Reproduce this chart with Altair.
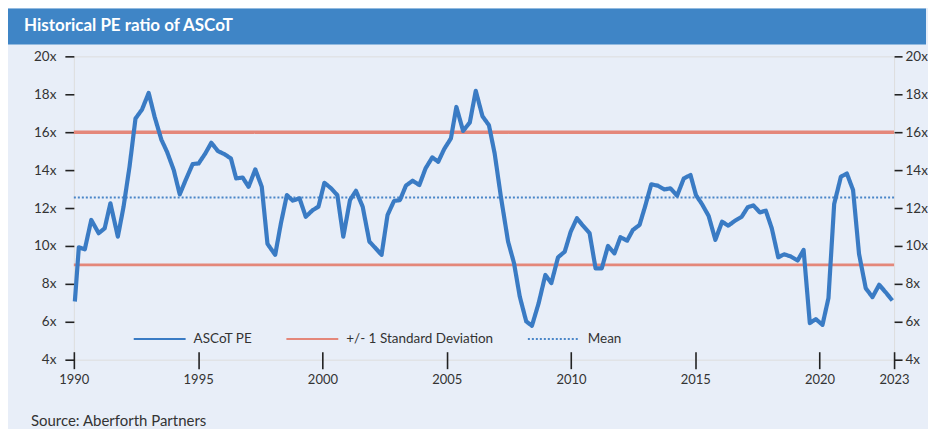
import altair as alt
import pandas as pd

# ---- data ----
years = [1990.04, 1990.20, 1990.44, 1990.70, 1991.00, 1991.24, 1991.47, 1991.77, 1992.00, 1992.24,
         1992.48, 1992.74, 1993.01, 1993.25, 1993.52, 1993.75, 1994.02, 1994.26, 1994.51, 1994.78,
         1995.02, 1995.29, 1995.53, 1995.80, 1996.06, 1996.32, 1996.53, 1996.79, 1997.03, 1997.30,
         1997.56, 1997.79, 1998.10,
         1998.33, 1998.57, 1998.81, 1999.08, 1999.33, 1999.61, 1999.84, 2000.08, 2000.35, 2000.60,
         2000.84, 2001.11, 2001.35, 2001.62, 2001.89, 2002.14, 2002.38, 2002.62, 2002.88, 2003.12,
         2003.36, 2003.63, 2003.90, 2004.15, 2004.42, 2004.66, 2004.90, 2005.17, 2005.39, 2005.66,
         2005.93, 2006.17, 2006.44, 2006.70,
         2006.93, 2007.18, 2007.47, 2007.71, 2007.94, 2008.20, 2008.43, 2008.70, 2008.97, 2009.21,
         2009.48, 2009.75, 2009.99, 2010.24, 2010.48, 2010.75, 2010.99, 2011.24, 2011.49, 2011.75,
         2011.99, 2012.26, 2012.49, 2012.76, 2012.98, 2013.23, 2013.49, 2013.76, 2014.00, 2014.27,
         2014.54, 2014.81,
         2015.03, 2015.27, 2015.54, 2015.81, 2016.08, 2016.33, 2016.60, 2016.87, 2017.11, 2017.34,
         2017.60, 2017.84, 2018.08, 2018.34, 2018.58, 2018.85, 2019.12, 2019.36, 2019.61, 2019.85,
         2020.12, 2020.36, 2020.59, 2020.86, 2021.10, 2021.35, 2021.59, 2021.86, 2022.13, 2022.40,
         2022.66, 2022.93]

pe_ratio = [7.07, 9.93, 9.82, 11.37, 10.67, 10.93, 12.25, 10.49, 12.07, 14.18,
            16.72, 17.19, 18.07, 16.81, 15.61, 14.96, 14.00, 12.72, 13.51, 14.32,
            14.35, 14.88, 15.44, 15.00, 14.84, 14.61, 13.56, 13.61, 13.12, 14.04,
            13.12, 10.11, 9.53,
            11.19, 12.68, 12.39, 12.51, 11.54, 11.89, 12.07, 13.33, 13.04, 12.68,
            10.49, 12.42, 12.91, 12.07, 10.23, 9.88, 9.53, 11.63, 12.37, 12.42,
            13.18, 13.44, 13.21, 14.09, 14.67, 14.44, 15.11, 15.67, 17.33, 16.07,
            16.51, 18.18, 16.84, 16.37,
            14.88, 12.60, 10.23, 9.09, 7.33, 6.02, 5.79, 6.98, 8.47, 8.04,
            9.40, 9.70, 10.75, 11.46, 11.07, 10.67, 8.82, 8.82, 10.00, 9.61,
            10.46, 10.28, 10.84, 11.11, 12.07, 13.25, 13.18, 12.98, 13.04, 12.65,
            13.56, 13.74,
            12.68, 12.21, 11.58, 10.32, 11.28, 11.07, 11.33, 11.54, 12.04, 12.14,
            11.77, 11.86, 10.93, 9.40, 9.56, 9.44, 9.23, 9.79, 5.93, 6.14,
            5.84, 7.25, 12.21, 13.65, 13.82, 12.95, 9.58, 7.77, 7.30, 7.95,
            7.56, 7.12]

sd_upper = 16.0
sd_lower = 9.0
mean_pe = 12.56
x_range = [1990, 2023]
x_ticks = [1990, 1995, 2000, 2005, 2010, 2015, 2020, 2023]
y_ticks = [4, 6, 8, 10, 12, 14, 16, 18, 20]
series = ["ASCoT PE", "+/- 1 Standard Deviation", "Mean"]
colors = ["#3a7bc4", "#e4877a", "#4a86c8"]
line_ids = ["pe", "upper", "lower", "mean"]
title_text = "Historical PE ratio of ASCoT"
source_text = "Source: Aberforth Partners"

FONT = "Lato"
DARK = "#222222"
TEXT = "#333333"

pe_df = pd.DataFrame({"year": years, "pe": pe_ratio, "series": series[0], "line": "pe"})
ref_df = pd.DataFrame({
    "year": x_range * 3,
    "pe": [sd_upper] * 2 + [sd_lower] * 2 + [mean_pe] * 2,
    "series": [series[1]] * 4 + [series[2]] * 2,
    "line": ["upper", "upper", "lower", "lower", "mean", "mean"],
})

legend = alt.Legend(
    title=None, orient="none", legendX=59, legendY=256, direction="horizontal",
    symbolType="stroke", symbolSize=2704, symbolStrokeWidth=2,
    labelFontSize=13.5, labelColor=TEXT, labelFont=FONT, labelOffset=7,
    columnPadding=30, padding=0,
)

x_enc = alt.X("year:Q", scale=alt.Scale(domain=x_range, nice=False, zero=False),
              axis=alt.Axis(values=x_ticks, format="d", title=None, domain=False, grid=False,
                            offset=-8, tickSize=17, labelPadding=5, labelFontSize=13,
                            labelFlush=False, labelColor=TEXT, tickColor=DARK, tickWidth=1.6,
                            labelFont=FONT))
color_enc = alt.Color("series:N", scale=alt.Scale(domain=series, range=colors), legend=legend)
dash_enc = alt.StrokeDash("series:N", scale=alt.Scale(domain=series, range=[[1, 0], [1, 0], [2, 2]]),
                          legend=legend)
width_enc = alt.StrokeWidth("line:N", scale=alt.Scale(domain=line_ids, range=[4.2, 2, 2, 1.6]),
                            legend=None)


def y_enc(orient, tick, pad):
    return alt.Y("pe:Q", scale=alt.Scale(domain=[4, 20], nice=False, zero=False),
                 axis=alt.Axis(orient=orient, values=y_ticks, labelExpr="datum.value + 'x'",
                               title=None, domain=False, grid=False, tickSize=tick, labelPadding=pad,
                               labelFontSize=13.5, labelColor=TEXT, tickColor=DARK, tickWidth=1.6,
                               labelFont=FONT))


ref_layer = alt.Chart(ref_df).mark_line().encode(
    x=x_enc, y=y_enc("left", 9, 9), color=color_enc, strokeDash=dash_enc, strokeWidth=width_enc,
    detail="line:N",
)
pe_layer = alt.Chart(pe_df).mark_line(strokeJoin="round").encode(
    x=x_enc, y=y_enc("right", 8, 3), color=color_enc, strokeDash=dash_enc, strokeWidth=width_enc,
)

deco_df = pd.DataFrame({"title": [title_text], "source": [source_text]})
title_bar = alt.Chart(deco_df).mark_rect(color="#3f85c6").encode(
    x=alt.value(-66), x2=alt.value(854), y=alt.value(-48), y2=alt.value(-12)
)
title_label = alt.Chart(deco_df).mark_text(
    align="left", baseline="alphabetic", fontSize=17, fontWeight="bold", color="white", font=FONT
).encode(x=alt.value(-50), y=alt.value(-25), text="title:N")
source_label = alt.Chart(deco_df).mark_text(
    align="left", baseline="alphabetic", fontSize=15, color=TEXT, font=FONT
).encode(x=alt.value(-43), y=alt.value(370), text="source:N")

chart = alt.layer(title_bar, title_label, source_label, ref_layer, pe_layer).resolve_scale(
    y="independent"
).properties(
    width=822, height=304, background="#e8eef8",
    padding={"left": 0, "top": 0, "right": 0, "bottom": 0},
).configure_view(stroke=DARK, strokeWidth=2).configure(font=FONT)

chart.save("out.html", embed_options={"renderer": "svg", "actions": False})
